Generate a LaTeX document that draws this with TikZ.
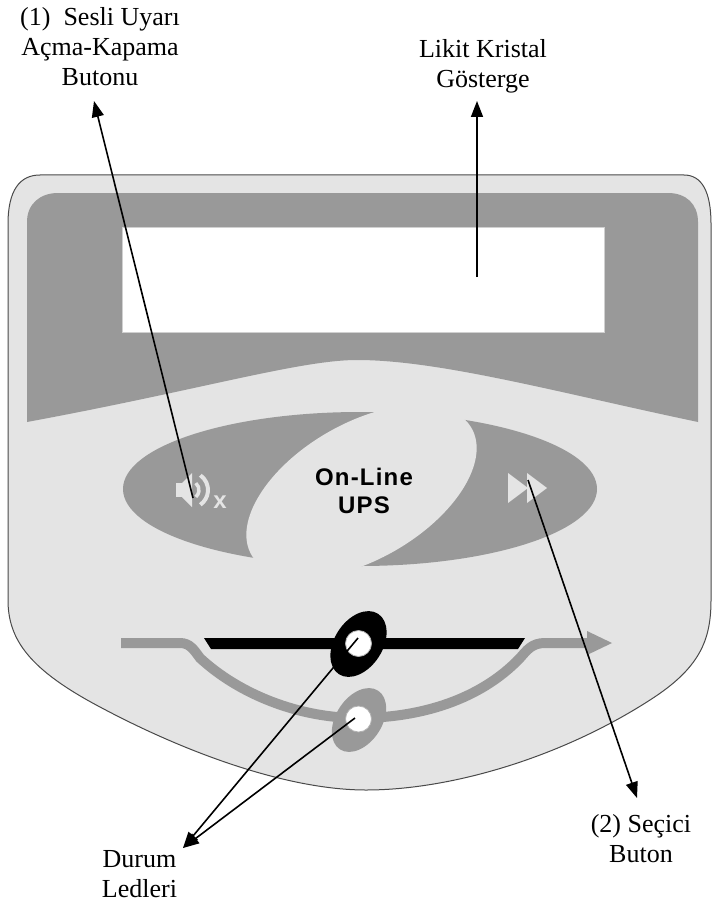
\documentclass[tikz,border=0pt]{standalone}
\usepackage{fontspec}
\setmainfont{Liberation Serif}
\newfontfamily\upsfont{Liberation Sans}[LetterSpace=5]
\newfontfamily\iconfont{Liberation Sans}
\usetikzlibrary{arrows.meta}

\definecolor{panel}{HTML}{E4E4E4}
\definecolor{band}{HTML}{999999}
\definecolor{panelline}{HTML}{4A4A4A}
\definecolor{lcdedge}{HTML}{D0D0D0}

\tikzset{
  lbl/.style={font=\fontsize{26}{29.7}\selectfont, align=center, inner sep=0pt, anchor=base},
  pointer/.style={line width=1.6pt, -{Triangle[length=16pt,width=12pt]}},
  iconshape/.style={fill=panel},
}

\begin{document}
\begin{tikzpicture}[x=1pt,y=-1pt]
\useasboundingbox (0,0) rectangle (713,904);

% front panel outline
\path[draw=panelline, fill=panel, line width=1pt]
  (8,224) .. controls (8,190) and (20,175) .. (40,175) -- (684,175)
  .. controls (702,175) and (711,192) .. (711,224) -- (711,600)
  .. controls (711,640) and (700,668) .. (650,700)
  .. controls (560,758) and (450,790) .. (366,790)
  .. controls (290,790) and (190,755) .. (100,707)
  .. controls (30,670) and (8,640) .. (8,600) -- cycle;

% dark band around the display, with a wavy lower edge
\fill[band] (27,222) .. controls (27,204) and (40,193) .. (58,193) -- (668,193)
  .. controls (686,193) and (698,204) .. (698,222) -- (698,422)
  .. controls (560,393) and (440,360) .. (357,360)
  .. controls (300,360) and (200,390) .. (27,422) -- cycle;

% liquid crystal display window
\filldraw[fill=white, draw=lcdedge, line width=0.6pt] (122,227) rectangle (604,332);

% button ellipse with the tilted light centre
\fill[band] (360,489) ellipse [x radius=237, y radius=77];
\fill[panel, rotate around={30:(361.5,491.5)}] (361.5,491.5) ellipse [x radius=127, y radius=68];
\node[font=\upsfont\bfseries\fontsize{24}{28}\selectfont, align=center, inner sep=0pt, anchor=base] (brand) at (364,513) {On-Line\\UPS};

% buzzer on/off symbol
\fill[iconshape] (176,483) rectangle (182,497);
\fill[iconshape] (182,483) -- (192,473) -- (192,507) -- (182,497) -- cycle;
\draw[panel, line width=3.5pt] (190,490) ++(-50:9) arc[start angle=-50, end angle=50, radius=9];
\draw[panel, line width=4pt] (190,490) ++(-55:18) arc[start angle=-55, end angle=55, radius=18];
\node[font=\iconfont\bfseries\fontsize{24}{24}\selectfont, text=panel, inner sep=0pt, anchor=base] (mute) at (220,508) {x};

% selector symbol
\fill[iconshape] (508,473) -- (528,488) -- (508,503) -- cycle;
\fill[iconshape] (527,473) -- (547,488) -- (527,503) -- cycle;

% status track with arrow
\draw[band, line width=10pt] (121,643) -- (180,643)
  .. controls (190,643) and (194,650) .. (200,658)
  .. controls (240,695) and (300,718) .. (358,718)
  .. controls (420,718) and (480,700) .. (520,658)
  .. controls (527,650) and (532,643) .. (545,643) -- (590,643);
\fill[band] (587,631) -- (612,643) -- (587,655) -- cycle;
\fill[black] (204,638) -- (525,638) -- (518,649) -- (211,649) -- cycle;

% status LEDs
\fill[band, rotate around={57:(359,720)}] (359,720) ellipse [x radius=35, y radius=23];
\filldraw[fill=white, draw=gray!60, line width=0.8pt] (358.5,719) circle [radius=13];
\fill[black, rotate around={57:(358.5,644)}] (358.5,644) ellipse [x radius=36, y radius=24];
\filldraw[fill=white, draw=gray!60, line width=0.8pt] (358.5,643.5) circle [radius=13];

% labels (anchored at the baseline of their last line)
\node[lbl] (lblbuzz) at (100,85.4) {(1)~ Sesli Uyarı\\Açma-Kapama\\Butonu};
\node[lbl] (lbllcd) at (483,87.7) {Likit Kristal\\Gösterge};
\node[lbl] (lblsel) at (641,862) {(2) Seçici\\Buton};
\node[lbl] (lblled) at (139.5,897) {Durum\\Ledleri};

% pointer ends
\coordinate (buzz) at (193,498);
\coordinate (buzztip) at (94,101);
\coordinate (lcd) at (477,277);
\coordinate (lcdtip) at (477,101);
\coordinate (sel) at (528,480);
\coordinate (seltip) at (637,798);
\coordinate (ledtop) at (358,638);
\coordinate (ledbot) at (355,718);
\coordinate (ledtip) at (183,848);

\draw[pointer] (buzz) -- (buzztip);
\draw[pointer] (lcd) -- (lcdtip);
\draw[pointer] (sel) -- (seltip);
\draw[pointer] (ledtop) -- (ledtip);
\draw[pointer] (ledbot) -- (ledtip);
\end{tikzpicture}
\end{document}
